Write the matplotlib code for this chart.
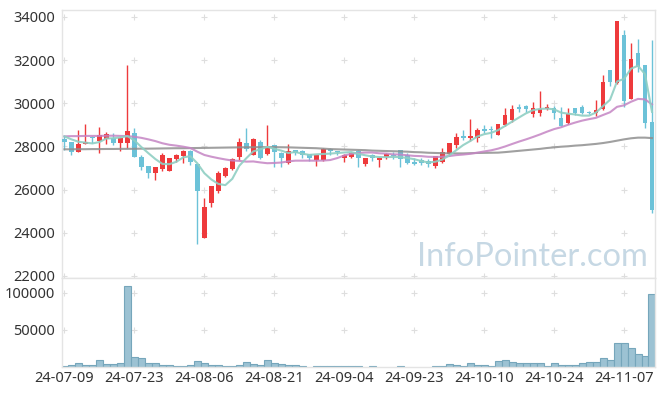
import numpy as np
import pandas as pd
import matplotlib
matplotlib.use("Agg")
import matplotlib.pyplot as plt

# ---------------- data ----------------
dates = [
    "24-07-09", "24-07-10", "24-07-11", "24-07-12", "24-07-15", "24-07-16", "24-07-17", "24-07-18", "24-07-19", "24-07-22",
    "24-07-23", "24-07-24", "24-07-25", "24-07-26", "24-07-29", "24-07-30", "24-07-31", "24-08-01", "24-08-02", "24-08-05",
    "24-08-06", "24-08-07", "24-08-08", "24-08-09", "24-08-12", "24-08-13", "24-08-14", "24-08-16", "24-08-19", "24-08-20",
    "24-08-21", "24-08-22", "24-08-23", "24-08-26", "24-08-27", "24-08-28", "24-08-29", "24-08-30", "24-09-02", "24-09-03",
    "24-09-04", "24-09-05", "24-09-06", "24-09-09", "24-09-10", "24-09-11", "24-09-12", "24-09-13", "24-09-19", "24-09-20",
    "24-09-23", "24-09-24", "24-09-25", "24-09-26", "24-09-27", "24-09-30", "24-10-02", "24-10-04", "24-10-07", "24-10-08",
    "24-10-10", "24-10-11", "24-10-14", "24-10-15", "24-10-16", "24-10-17", "24-10-18", "24-10-21", "24-10-22", "24-10-23",
    "24-10-24", "24-10-25", "24-10-28", "24-10-29", "24-10-30", "24-10-31", "24-11-01", "24-11-04", "24-11-05", "24-11-06",
    "24-11-07", "24-11-08", "24-11-11", "24-11-12", "24-11-13",
]

opens = [28370, 28210, 27760, 28120, 28440, 28260, 28370, 28400, 28150, 28180,
         28620, 27510, 27090, 26780, 26970, 26870, 27430, 27560, 27810, 27170,
         23740, 25380, 25920, 26620, 26970, 27530, 28150, 27620, 28210, 27670,
         28070, 27700, 27220, 27820, 27780, 27640, 27370, 27370, 27880, 27790,
         27450, 27530, 27790, 27200, 27600, 27370, 27510, 27590, 27840, 27590,
         27290, 27370, 27320, 27090, 27290, 27640, 28070, 28490, 28400, 28380,
         28790, 28800, 28550, 29010, 29210, 29820, 29890, 29490, 29550, 29720,
         29780, 29300, 29070, 29790, 29850, 29610, 29570, 29750, 31530, 30930,
         33160, 30210, 32350, 31760, 29150]
highs = [28470, 28230, 28770, 29040, 28470, 28910, 28650, 28620, 28420, 31790,
         28870, 27620, 27100, 27050, 27680, 27480, 27670, 27840, 27820, 27200,
         25610, 26170, 26860, 27070, 27450, 28380, 28850, 28410, 28290, 29010,
         28080, 27760, 28100, 27840, 27820, 27650, 27620, 27950, 27910, 27800,
         27640, 27740, 27820, 27460, 27670, 27500, 27690, 27740, 27850, 27680,
         27480, 27460, 27400, 27570, 27920, 28180, 28620, 28770, 29270, 28850,
         29010, 28960, 29050, 29790, 29930, 29990, 29900, 30080, 30590, 29970,
         29890, 29850, 29790, 29800, 29930, 29650, 30160, 31330, 31540, 33820,
         33400, 32780, 32980, 31790, 32930]
lows = [27850, 27620, 27740, 28100, 28150, 27710, 28100, 28070, 27790, 27910,
        27500, 26930, 26540, 26440, 26860, 26860, 27290, 27250, 27140, 23480,
        23740, 25210, 25850, 26580, 26890, 27390, 27790, 27590, 27400, 27590,
        27060, 27040, 27170, 27600, 27450, 27320, 27090, 27320, 27590, 27590,
        27290, 27450, 27040, 27090, 27320, 27060, 27400, 27400, 27060, 27170,
        27120, 27150, 27060, 27010, 27250, 27560, 27950, 28300, 28260, 28210,
        28620, 28410, 28520, 28960, 29150, 29580, 29580, 29360, 29400, 29680,
        29270, 28930, 29040, 29460, 29500, 29500, 29430, 29710, 30780, 30900,
        29820, 30180, 31450, 28850, 24910]
closes = [28220, 27760, 28120, 28210, 28400, 28540, 28590, 28170, 28400, 28710,
          27530, 27060, 26750, 27040, 27590, 27460, 27620, 27790, 27290, 25940,
          25180, 26160, 26760, 27010, 27400, 28210, 27900, 28350, 27480, 27980,
          27760, 27480, 27790, 27710, 27600, 27480, 27600, 27880, 27790, 27740,
          27600, 27700, 27480, 27450, 27450, 27480, 27670, 27540, 27400, 27250,
          27200, 27250, 27200, 27560, 27740, 28170, 28450, 28400, 28490, 28770,
          28740, 28760, 29040, 29460, 29750, 29720, 29720, 29770, 29750, 29820,
          29550, 28960, 29520, 29570, 29550, 29550, 29690, 31010, 31010, 33810,
          30130, 32070, 31680, 29070, 25070]
volumes = [1000, 2700, 5000, 2700, 2700, 9500, 3600, 3600, 5000, 109500,
           13000, 11700, 5000, 5000, 2200, 2200, 900, 900, 2200, 7700,
           5000, 2200, 2200, 900, 900, 2200, 6300, 3600, 2200, 9000,
           5000, 3600, 2200, 2200, 900, 0, 900, 900, 900, 900,
           900, 900, 900, 0, 900, 0, 0, 0, 900, 0,
           0, 0, 0, 900, 900, 3600, 2200, 900, 5000, 2200,
           2200, 900, 7700, 9000, 6300, 5000, 5000, 5000, 5000, 900,
           5000, 2200, 2200, 2200, 5000, 6300, 6300, 11700, 9500, 32400,
           32400, 25200, 17100, 14900, 98700]

# moving-average values where the window reaches before this chart
ma5_head = [28470, 28330, 28220, 28180]
ma20_head = [28470, 28480, 28480, 28490, 28490, 28490, 28500, 28500, 28490, 28480,
             28450, 28400, 28330, 28250, 28150, 28080, 28040, 27990, 27930]
# long moving average
ma60 = [27870, 27870, 27875, 27875, 27880, 27880, 27885, 27885, 27890, 27890,
        27895, 27900, 27900, 27905, 27910, 27915, 27920, 27920, 27925, 27930,
        27935, 27940, 27945, 27950, 27955, 27960, 27965, 27965, 27970, 27970,
        27970, 27965, 27960, 27950, 27940, 27930, 27920, 27900, 27880, 27870,
        27860, 27850, 27840, 27830, 27810, 27800, 27790, 27780, 27770, 27760,
        27740, 27730, 27710, 27700, 27690, 27680, 27680, 27680, 27690, 27700,
        27705, 27710, 27715, 27740, 27770, 27800, 27830, 27860, 27890, 27930,
        27960, 27990, 28010, 28040, 28060, 28090, 28120, 28160, 28210, 28270,
        28330, 28380, 28410, 28410, 28390]

price_ticks = [22000, 24000, 26000, 28000, 30000, 32000, 34000]
volume_ticks = [50000, 100000]
volume_tick_labels = ["50000", "100000"]
label_every = 10

# ---------------- derived ----------------
n = len(closes)
x = np.arange(n)
o = np.array(opens, float)
h = np.array(highs, float)
l = np.array(lows, float)
c = np.array(closes, float)
v = np.array(volumes, float)

cs = pd.Series(c)
def moving(head, window):
    m = cs.rolling(window).mean().to_numpy()
    m[:len(head)] = head
    return m
ma5 = moving(ma5_head, 5)
ma20 = moving(ma20_head, 20)

RED = "#ee3a3c"
BLUE = "#6cc2d8"
SPINE = "#e4e4e4"
TXT = "#333333"
FONT = "Noto Sans"
FS = 10.5

fig = plt.figure(figsize=(6.65, 3.96), dpi=100)
W, H = 665, 396
axp = fig.add_axes([62 / W, 118 / H, 593 / W, 268 / H])
axv = fig.add_axes([62 / W, 29 / H, 593 / W, 89 / H], sharex=axp)

up = c >= o
colors = np.where(up, RED, BLUE)

# grid crosses
xt = x[::label_every]
gx, gy = np.meshgrid(xt, price_ticks)
axp.plot(gx.ravel(), gy.ravel(), ls="none", marker="+", ms=5, mew=0.8,
         color="#dedede", zorder=0)

# watermark
axp.text(0.988, 0.043, "InfoPointer.com", transform=axp.transAxes, ha="right",
         va="baseline", fontsize=23.5, color="#c6d8e4", family="Lato", zorder=0.5)

axp.vlines(x, l, h, colors=colors, lw=1, zorder=2)
body = np.maximum(np.abs(c - o), 50)
axp.bar(x, body, bottom=np.minimum(o, c), width=0.68, color=colors, zorder=3)

axp.plot(x, ma60, color="#8f8f8f", lw=1.5, alpha=0.85, zorder=4)
axp.plot(x, ma20, color="#c585c4", lw=1.5, alpha=0.85, zorder=4)
axp.plot(x, ma5, color="#8fcfc3", lw=1.5, alpha=0.9, zorder=4)

axp.set_xlim(-0.35, n - 1 + 0.43)
axp.set_ylim(21907, 34324)
axp.set_yticks(price_ticks)
axp.set_yticklabels([str(t) for t in price_ticks])
axp.tick_params(axis="y", length=0, pad=5, labelsize=FS, labelcolor=TXT)
axp.tick_params(axis="x", length=0, labelbottom=False)
for s in axp.spines.values():
    s.set_color(SPINE)
    s.set_linewidth(1)

# volume
vx, vy = np.meshgrid(xt, volume_ticks)
axv.plot(vx.ravel(), vy.ravel(), ls="none", marker="+", ms=5, mew=0.8,
         color="#dedede", zorder=0)
mask = v > 0
axv.bar(x[mask], v[mask], width=1.0, color="#9cc2d3", edgecolor="#76a6bb",
        linewidth=0.8, zorder=2)
axv.set_ylim(0, 120270)
axv.set_yticks(volume_ticks)
axv.set_yticklabels(volume_tick_labels)
axv.set_xticks(xt)
axv.set_xticklabels([dates[i] for i in xt])
axv.tick_params(axis="y", length=0, pad=5, labelsize=FS, labelcolor=TXT)
axv.tick_params(axis="x", length=0, pad=3, labelsize=FS, labelcolor=TXT)
for s in axv.spines.values():
    s.set_color(SPINE)
    s.set_linewidth(1)

for lab in axp.get_yticklabels() + axv.get_yticklabels() + axv.get_xticklabels():
    lab.set_family(FONT)

fig.savefig("out.png", dpi=100)
